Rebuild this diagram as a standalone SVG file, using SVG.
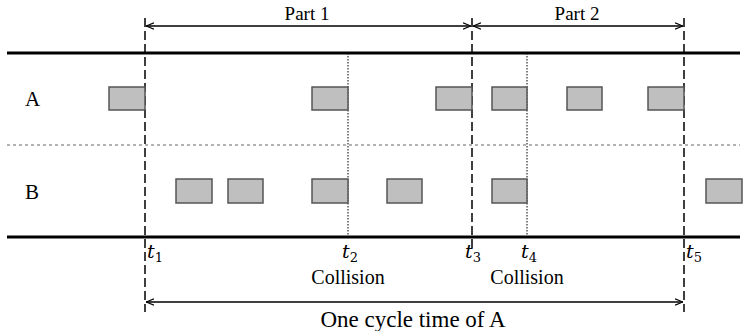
<svg xmlns="http://www.w3.org/2000/svg" width="748" height="331" viewBox="0 0 748 331">
<style>
.lane{stroke:#000;stroke-width:3}
.sep{stroke:#666;stroke-width:1.2;stroke-dasharray:3 3}
.dash{stroke:#000;stroke-width:1.5;stroke-dasharray:9 4}
.dot{stroke:#000;stroke-width:1;stroke-dasharray:1.5 1.5}
.box{fill:#bfbfbf;stroke:#555;stroke-width:1.5}
.arr{stroke:#000;stroke-width:1.3;fill:none;marker-start:url(#ah);marker-end:url(#ah)}
.lbl{font-family:'Liberation Serif','Times New Roman',serif;fill:#000}
.t{font-family:'DejaVu Serif','Liberation Serif',serif;font-size:19px;font-style:italic;fill:#000}
.sub{font-size:13px;font-style:normal}
</style>
<defs>
<marker id="ah" viewBox="0 0 10 10" refX="10" refY="5" markerWidth="8" markerHeight="8" orient="auto-start-reverse" markerUnits="userSpaceOnUse">
<path d="M0,1 L10,5 L0,9" fill="none" stroke="#000" stroke-width="1.4"/>
</marker>
</defs>
<g id="lanes">
<line class="lane" x1="7" y1="53" x2="740" y2="53"/>
<line class="lane" x1="7" y1="237" x2="740" y2="237"/>
<line class="sep" x1="7" y1="145" x2="740" y2="145"/>
</g>
<g id="connectors">
<line class="dash" x1="145" y1="18" x2="145" y2="312"/>
<line class="dash" x1="472" y1="18" x2="472" y2="252"/>
<line class="dash" x1="684" y1="18" x2="684" y2="312"/>
<line class="dot" x1="348" y1="53" x2="348" y2="237"/>
<line class="dot" x1="527" y1="53" x2="527" y2="237"/>
<line class="arr" x1="146" y1="26" x2="471" y2="26"/>
<line class="arr" x1="473" y1="26" x2="683" y2="26"/>
<line class="arr" x1="146" y1="302" x2="683" y2="302"/>
</g>
<g id="rowA">
<text class="lbl" x="25" y="106" font-size="21">A</text>
<rect class="box" x="109" y="87" width="36" height="23"/>
<rect class="box" x="312" y="87" width="36" height="23"/>
<rect class="box" x="436" y="87" width="36" height="23"/>
<rect class="box" x="492" y="87" width="35" height="23"/>
<rect class="box" x="567" y="87" width="35" height="23"/>
<rect class="box" x="648" y="87" width="36" height="23"/>
</g>
<g id="rowB">
<text class="lbl" x="25" y="199" font-size="21">B</text>
<rect class="box" x="176" y="179" width="36" height="24"/>
<rect class="box" x="228" y="179" width="35" height="24"/>
<rect class="box" x="312" y="179" width="36" height="24"/>
<rect class="box" x="387" y="179" width="35" height="24"/>
<rect class="box" x="492" y="179" width="35" height="24"/>
<rect class="box" x="706" y="179" width="36" height="24"/>
</g>
<g id="labels">
<text class="lbl" x="307" y="20" text-anchor="middle" font-size="19">Part 1</text>
<text class="lbl" x="577" y="20" text-anchor="middle" font-size="19">Part 2</text>
<text class="t" x="342" y="258">t<tspan class="sub" dy="4">2</tspan></text>
<text class="t" x="147" y="258">t<tspan class="sub" dy="4">1</tspan></text>
<text class="t" x="465" y="258">t<tspan class="sub" dy="4">3</tspan></text>
<text class="t" x="521" y="258">t<tspan class="sub" dy="4">4</tspan></text>
<text class="t" x="686" y="258">t<tspan class="sub" dy="4">5</tspan></text>
<text class="lbl" x="348" y="284" text-anchor="middle" font-size="20">Collision</text>
<text class="lbl" x="527" y="284" text-anchor="middle" font-size="20">Collision</text>
<text class="lbl" x="413" y="327" text-anchor="middle" font-size="23">One cycle time of A</text>
</g>
</svg>
